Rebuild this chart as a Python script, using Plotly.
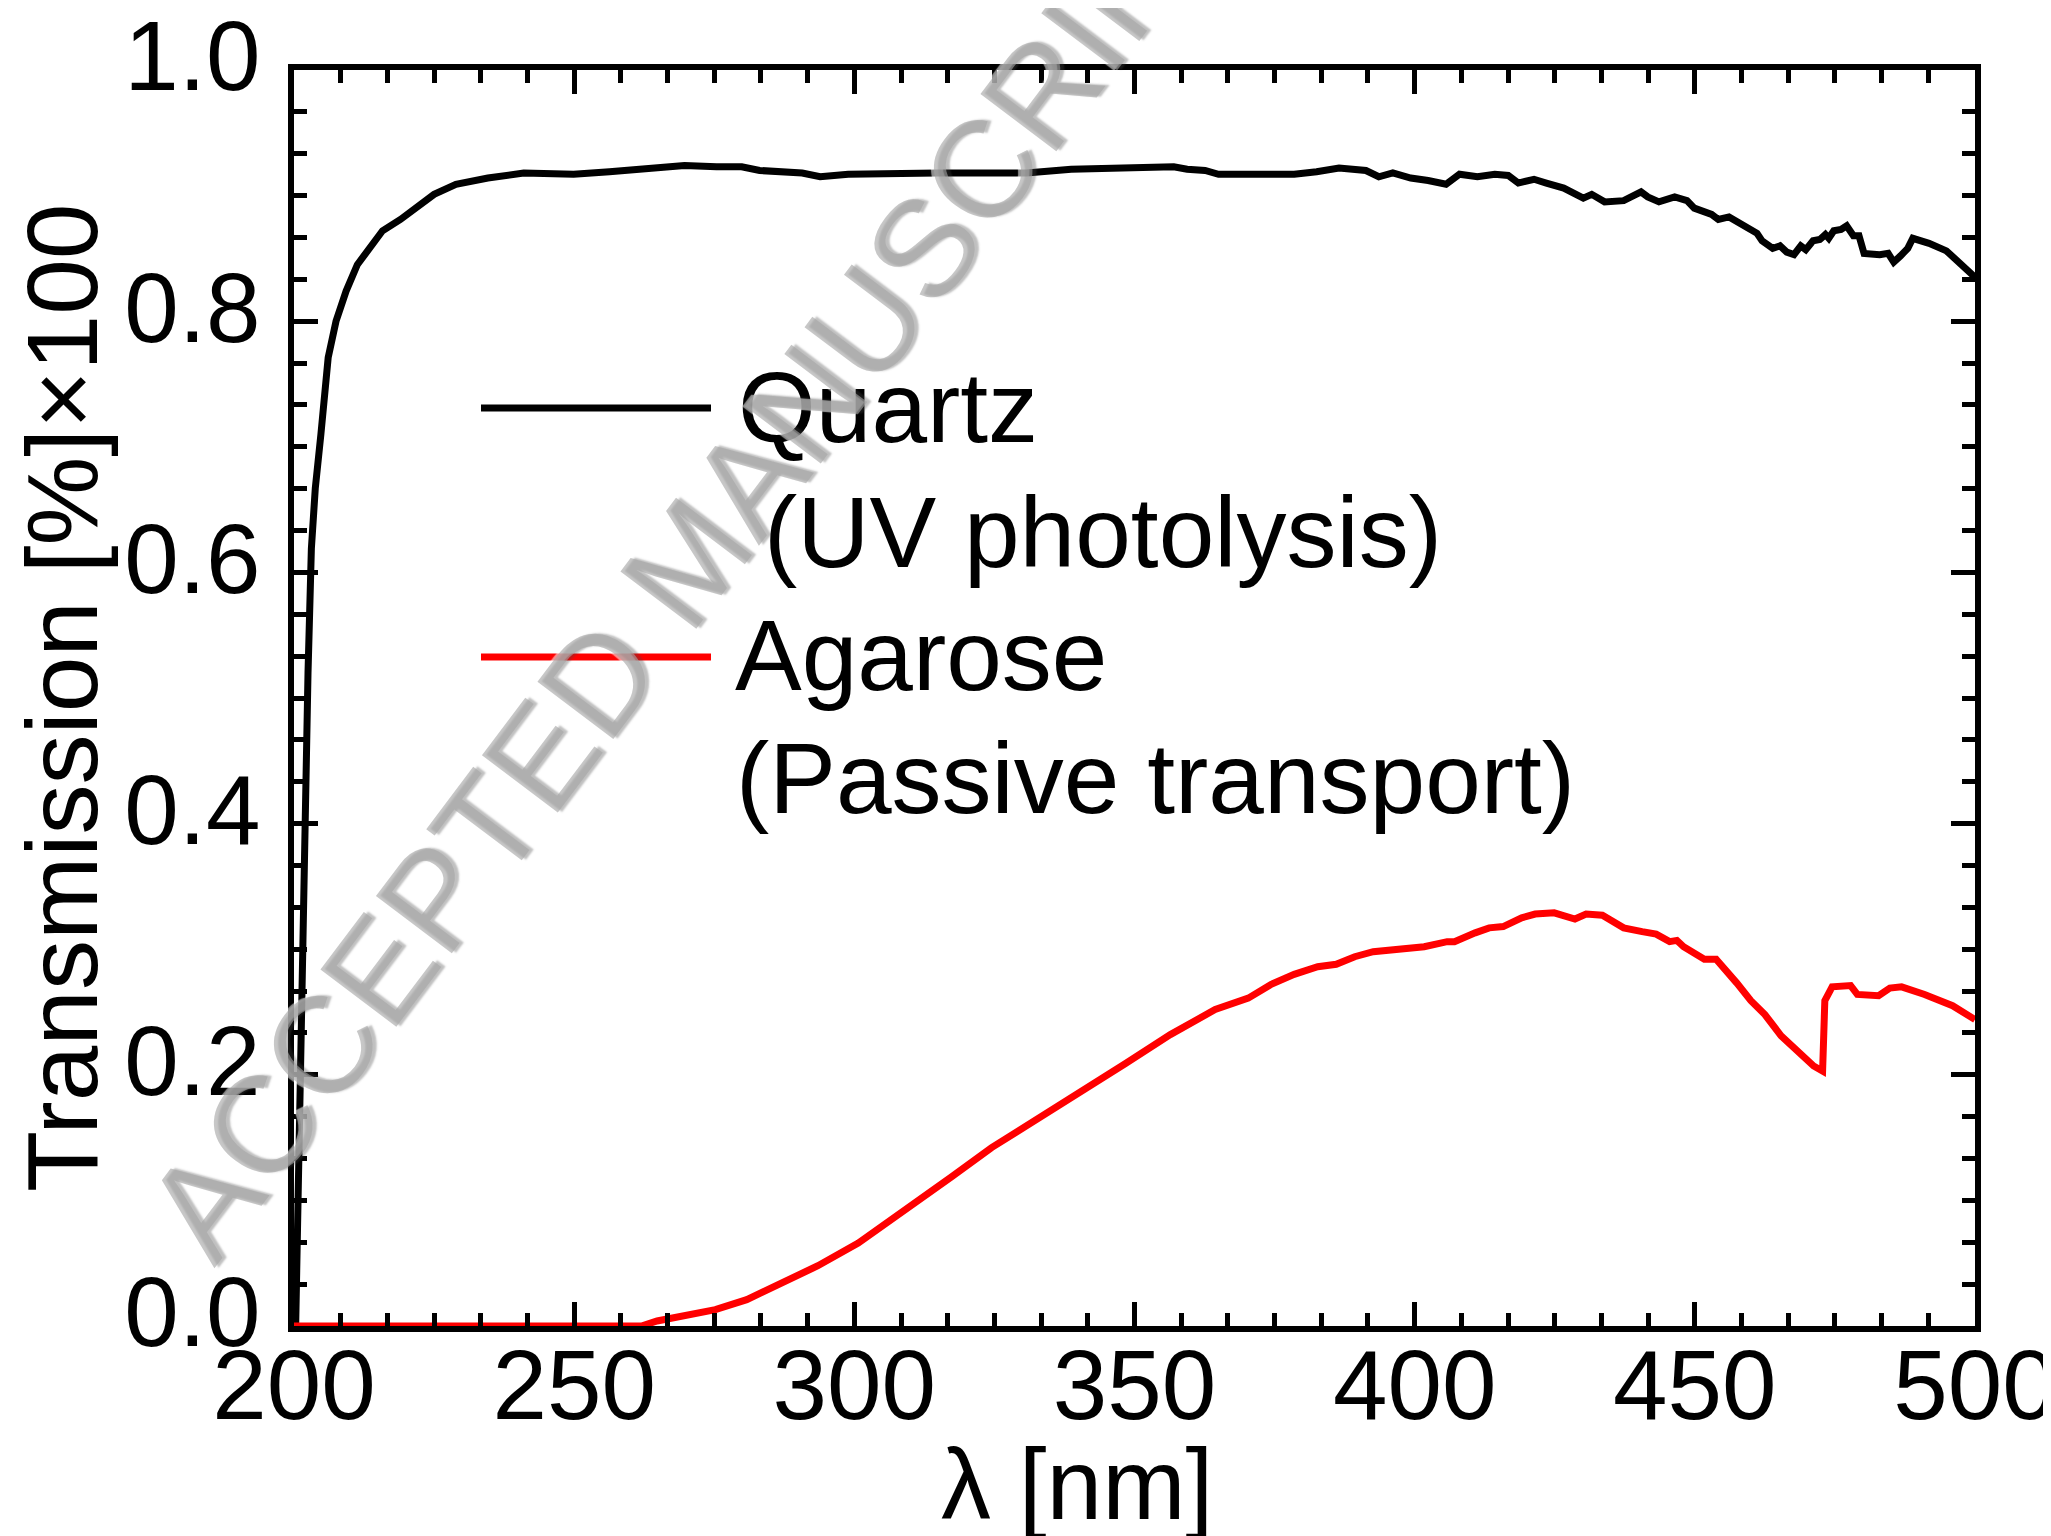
import plotly.graph_objects as go

# ---------------- data ----------------
quartz_nm = [200.3, 200.7, 201.2, 201.9, 202.5, 203.1, 203.8, 204.8, 206.1, 207.5, 209.3, 211.3,
             213.4, 215.8, 219.0, 221.6, 225.0, 228.9, 234.6, 241.0, 249.9, 256.3, 262.6, 269.7,
             275.4, 279.9, 283.1, 290.7, 293.9, 298.9, 314.8, 330.7, 338.7, 350.6, 357.0, 359.4,
             362.6, 365.0, 378.5, 382.5, 386.5, 391.3, 393.6, 396.1, 399.3, 402.4, 405.6, 408.0,
             411.2, 414.3, 416.7, 418.5, 421.3, 423.5, 426.6, 430.1, 431.6, 433.9, 437.3, 440.4,
             441.6, 443.6, 446.4, 448.6, 449.9, 453.0, 454.2, 456.1, 458.0, 459.8, 461.1, 462.0,
             463.9, 465.2, 466.4, 467.7, 468.9, 469.8, 471.1, 472.3, 473.3, 473.9, 474.8, 476.1,
             477.1, 478.3, 479.3, 480.2, 481.8, 483.0, 484.5, 485.5, 486.7, 488.0, 488.9, 491.8,
             494.9, 497.4, 500.0]
quartz_T = [0.000, 0.100, 0.230, 0.400, 0.520, 0.619, 0.667, 0.710, 0.771, 0.800, 0.824, 0.845,
            0.858, 0.872, 0.881, 0.890, 0.901, 0.909, 0.914, 0.918, 0.917, 0.919, 0.921, 0.924,
            0.923, 0.923, 0.920, 0.918, 0.915, 0.917, 0.918, 0.918, 0.921, 0.922, 0.923, 0.921,
            0.920, 0.917, 0.917, 0.919, 0.922, 0.920, 0.915, 0.918, 0.914, 0.912, 0.909, 0.917,
            0.915, 0.917, 0.916, 0.910, 0.913, 0.910, 0.906, 0.898, 0.901, 0.895, 0.896, 0.903,
            0.899, 0.895, 0.899, 0.896, 0.890, 0.885, 0.881, 0.883, 0.878, 0.872, 0.870, 0.864,
            0.858, 0.860, 0.855, 0.853, 0.860, 0.857, 0.864, 0.865, 0.869, 0.866, 0.872, 0.873,
            0.876, 0.868, 0.868, 0.854, 0.853, 0.853, 0.854, 0.847, 0.852, 0.858, 0.866, 0.862,
            0.856, 0.846, 0.835]

agarose_nm = [200.0, 262.0, 264.8, 269.6, 275.2, 280.8, 286.3, 293.5, 300.7, 309.4, 317.4, 324.5,
              332.5, 340.5, 348.4, 356.4, 364.4, 370.3, 374.4, 378.5, 382.7, 386.0, 389.3, 392.6,
              397.6, 401.7, 405.8, 407.1, 410.8, 413.3, 415.8, 419.1, 421.5, 424.9, 428.6, 430.6,
              433.5, 437.3, 440.6, 443.1, 445.5, 446.8, 448.0, 450.1, 451.7, 453.8, 455.5, 457.5,
              460.0, 462.5, 465.4, 468.3, 471.2, 472.8, 473.2, 474.5, 477.8, 479.0, 482.8, 484.8,
              486.9, 491.0, 496.0, 500.0]
agarose_T = [0.000, 0.000, 0.004, 0.008, 0.013, 0.021, 0.033, 0.048, 0.066, 0.093, 0.119, 0.142,
             0.164, 0.186, 0.209, 0.232, 0.252, 0.261, 0.272, 0.280, 0.286, 0.288, 0.294, 0.298,
             0.300, 0.302, 0.306, 0.306, 0.313, 0.317, 0.318, 0.325, 0.328, 0.329, 0.324, 0.328,
             0.327, 0.317, 0.314, 0.312, 0.306, 0.307, 0.302, 0.296, 0.292, 0.292, 0.284, 0.273,
             0.259, 0.248, 0.231, 0.219, 0.207, 0.203, 0.259, 0.270, 0.271, 0.264, 0.263, 0.269,
             0.270, 0.264, 0.255, 0.244]

x_ticks = [200, 250, 300, 350, 400, 450, 500]
y_ticks = [0.0, 0.2, 0.4, 0.6, 0.8, 1.0]

x_title = "λ [nm]"
y_title = "Transmission [%]×100"
legend_lines = ["Quartz", "(UV photolysis)", "Agarose", "(Passive transport)"]
watermark = "ACCEPTED MANUSCRIPT"

FONT = "Liberation Sans, Arial, sans-serif"
FS = 100
TFS = 98

fig = go.Figure()
fig.add_trace(go.Scatter(x=quartz_nm, y=quartz_T, mode="lines", name="Quartz (UV photolysis)",
                         line=dict(color="black", width=7), showlegend=False))
fig.add_trace(go.Scatter(x=agarose_nm, y=agarose_T, mode="lines", name="Agarose (Passive transport)",
                         line=dict(color="#ff0000", width=7), showlegend=False))

W, H = 2051, 1536
L, R, T, B = 286, 1967, 62, 1318


def px(xp):
    return (xp - L) / (R - L)


def py(yp):
    return (B - yp) / (B - T)


# manual legend
fig.add_shape(type="line", xref="paper", yref="paper", x0=px(473), x1=px(703), y0=py(400), y1=py(400),
              line=dict(color="black", width=7))
fig.add_shape(type="line", xref="paper", yref="paper", x0=px(473), x1=px(703), y0=py(649), y1=py(649),
              line=dict(color="#ff0000", width=7))
leg_pos = [(728, 399), (754, 524), (725, 647), (726, 770)]
for txt, (lx, ly) in zip(legend_lines, leg_pos):
    fig.add_annotation(text=txt, xref="paper", yref="paper", x=px(lx), y=py(ly), xanchor="left",
                       yanchor="middle", showarrow=False, font=dict(family=FONT, size=FS, color="black"))

# axis titles
fig.add_annotation(text=x_title, xref="paper", yref="paper", x=px(1069), y=py(1476), xanchor="center",
                   yanchor="middle", showarrow=False, font=dict(family=FONT, size=FS, color="black"))
fig.add_annotation(text=y_title, xref="paper", yref="paper", x=px(54), y=py(690), xanchor="center",
                   yanchor="middle", textangle=-90, showarrow=False,
                   font=dict(family=FONT, size=FS, color="black"))

# watermark (embossed grey look)
fig.add_annotation(text=watermark, xref="paper", yref="paper", x=px(680), y=py(552), textangle=-53,
                   showarrow=False,
                   font=dict(family=FONT, size=138, color="rgba(165,165,165,0.62)",
                             shadow="3px 3px 2px rgba(70,70,70,0.55), -2px -2px 1px rgba(255,255,255,0.9)"),
                   xanchor="center", yanchor="middle")

axis_common = dict(showgrid=False, zeroline=False, showline=True, linecolor="black", linewidth=6,
                   mirror="allticks", ticks="inside", ticklen=24, tickwidth=4.5, tickcolor="black",
                   ticklabeloverflow="allow",
                   tickfont=dict(family=FONT, size=TFS, color="black"))

fig.update_xaxes(range=[200, 500], tickvals=x_ticks, ticktext=[str(v) for v in x_ticks],
                 minor=dict(dtick=50 / 6, ticks="inside", ticklen=13, tickwidth=4.5, tickcolor="black", tick0=200),
                 ticklabelstandoff=-31, **axis_common)
fig.update_yaxes(range=[0, 1], tickvals=y_ticks, ticktext=["%.1f" % v for v in y_ticks],
                 minor=dict(dtick=0.2 / 6, ticks="inside", ticklen=13, tickwidth=4.5, tickcolor="black", tick0=0),
                 ticklabelstandoff=8, ticklabelshift=-14, **axis_common)

fig.update_layout(width=W, height=H, margin=dict(l=L, r=W - R, t=T, b=H - B, autoexpand=False),
                  paper_bgcolor="white", plot_bgcolor="white", showlegend=False,
                  font=dict(family=FONT, size=FS, color="black"))

fig.write_html("out.html")
